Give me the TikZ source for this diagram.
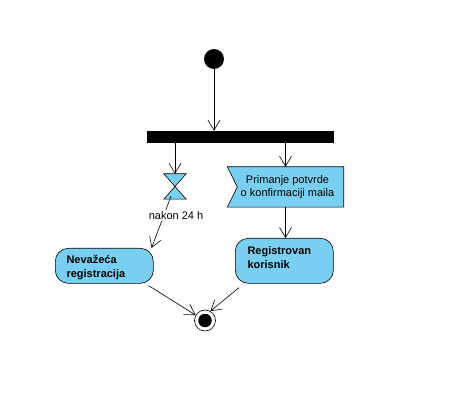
\documentclass[tikz,border=0pt]{standalone}
\usepackage{fontspec}
\setmainfont{Liberation Sans}
\usetikzlibrary{arrows.meta,calc}
\definecolor{actblue}{RGB}{121,207,241}
\tikzset{
  arr/.style={-{Straight Barb[length=10pt,width=12pt]}, line width=0.6pt},
  actbox/.style={draw, line width=0.6pt, fill=actblue, rounded corners=13pt, anchor=north west, inner sep=0pt},
  lbl/.style={font=\fontsize{11}{13.5}\selectfont},
}
\begin{document}
\begin{tikzpicture}[x=1pt,y=-1pt]
\useasboundingbox (0,0) rectangle (461,409);
% start
\node[circle, fill=black, minimum size=20pt, inner sep=0pt] (start) at (214,59) {};
% fork bar
\node[fill=black, minimum width=187pt, minimum height=12pt, inner sep=0pt] (fork) at (240.5,137) {};
% hourglass (time event)
\node[minimum width=22pt, minimum height=25pt, inner sep=0pt] (hg) at (175,186.5) {};
\draw[fill=actblue, line width=0.6pt] (hg.north west) -- (hg.north east) -- (hg.south west) -- (hg.south east) -- cycle;
% accept event
\node[minimum width=116pt, minimum height=40pt, inner sep=0pt] (acc) at (285.5,187) {};
\draw[fill=actblue, line width=0.6pt] (acc.north west) -- (acc.north east) -- (acc.south east) -- (acc.south west) -- ($(acc.west)+(10pt,0)$) -- cycle;
\node[lbl, align=center] (acctext) at ($(acc.center)+(2pt,0)$) {Primanje potvrde\\o konfirmaciji maila};
% actions
\node[actbox, minimum width=98pt, minimum height=35pt] (nev) at (55,248) {};
\node[lbl, font=\bfseries\fontsize{11}{14}\selectfont, align=left, anchor=north west] (nevtext) at ($(nev.north west)+(8pt,-4pt)$) {Nevažeća\\registracija};
\node[actbox, minimum width=98pt, minimum height=45pt] (reg) at (235,238) {};
\node[lbl, font=\bfseries\fontsize{11}{13.5}\selectfont, align=left, anchor=north west] (regtext) at ($(reg.north west)+(9pt,-5pt)$) {Registrovan\\korisnik};
% final
\node[circle, draw, line width=0.6pt, minimum size=21pt, inner sep=0pt] (final) at (205,320.5) {};
\node[circle, fill=black, minimum size=13.5pt, inner sep=0pt] (finalin) at (final.center) {};
% connectors
\draw[arr] (start) -- (start |- fork.north);
\draw[arr] (hg |- fork.south) -- (hg.north);
\draw[arr] (acc |- fork.south) -- (acc.north);
\draw[arr] (acc.south) -- (acc.south |- reg.north);
\draw[arr] ($(hg.south)+(-4pt,3pt)$) -- ($(nev.north east)+(-2pt,0)$);
\node[lbl, fill=white, inner sep=1pt] (tlabel) at (176,215.5) {nakon 24 h};
\draw[arr] ($(nev.south east)+(-5pt,-2pt)$) -- (final.150);
\draw[arr] ($(reg.south west)+(4pt,-4pt)$) -- (final.60);
\end{tikzpicture}
\end{document}
